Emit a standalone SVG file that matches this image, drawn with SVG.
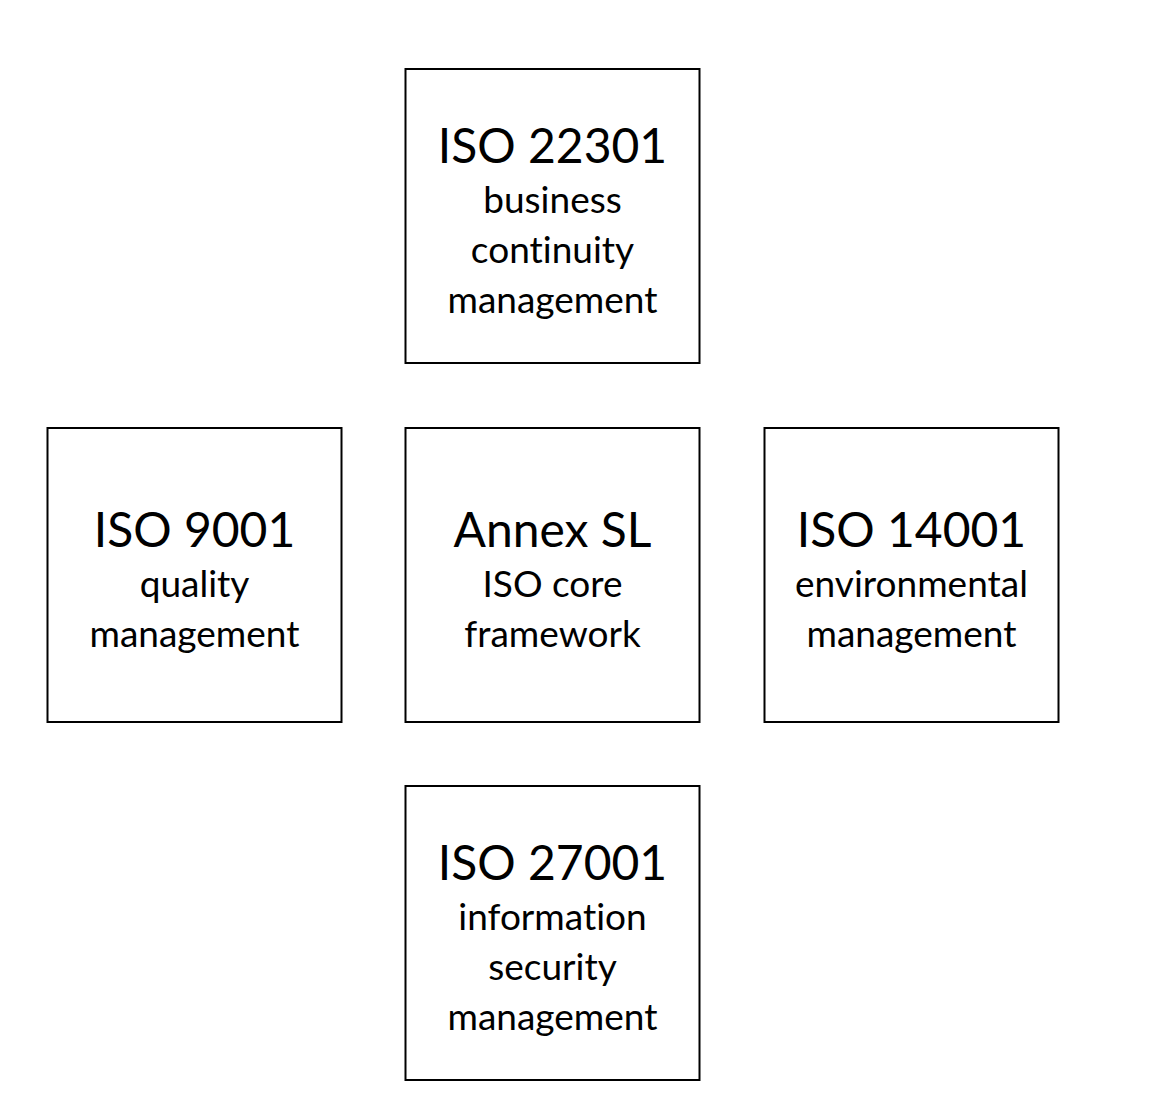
<svg xmlns="http://www.w3.org/2000/svg" width="1170" height="1111" viewBox="0 0 1170 1111">
<style>
.box{fill:#fff;stroke:#000;stroke-width:2}
text{font-family:Lato,"Open Sans","Liberation Sans",sans-serif;fill:#000;text-anchor:middle;font-variant-ligatures:none}
.t{font-size:48px}
.s{font-size:37px}
</style>
<rect width="1170" height="1111" fill="#fff"/>
<g id="connectors"></g>
<g id="iso22301">
<rect class="box" x="405.5" y="69" width="294" height="294"/>
<text class="t" x="552.5" y="163">ISO 22301</text>
<text class="s" x="552.5" y="213">business</text>
<text class="s" x="552.5" y="263">continuity</text>
<text class="s" x="552.5" y="313">management</text>
</g>
<g id="iso9001">
<rect class="box" x="47.5" y="428" width="294" height="294"/>
<text class="t" x="194.5" y="547">ISO 9001</text>
<text class="s" x="194.5" y="597">quality</text>
<text class="s" x="194.5" y="647">management</text>
</g>
<g id="annexsl">
<rect class="box" x="405.5" y="428" width="294" height="294"/>
<text class="t" x="552.5" y="547">Annex SL</text>
<text class="s" x="552.5" y="597">ISO core</text>
<text class="s" x="552.5" y="647">framework</text>
</g>
<g id="iso14001">
<rect class="box" x="764.5" y="428" width="294" height="294"/>
<text class="t" x="911.5" y="547">ISO 14001</text>
<text class="s" x="911.5" y="597">environmental</text>
<text class="s" x="911.5" y="647">management</text>
</g>
<g id="iso27001">
<rect class="box" x="405.5" y="786" width="294" height="294"/>
<text class="t" x="552.5" y="880">ISO 27001</text>
<text class="s" x="552.5" y="930">information</text>
<text class="s" x="552.5" y="980">security</text>
<text class="s" x="552.5" y="1030">management</text>
</g>
</svg>
